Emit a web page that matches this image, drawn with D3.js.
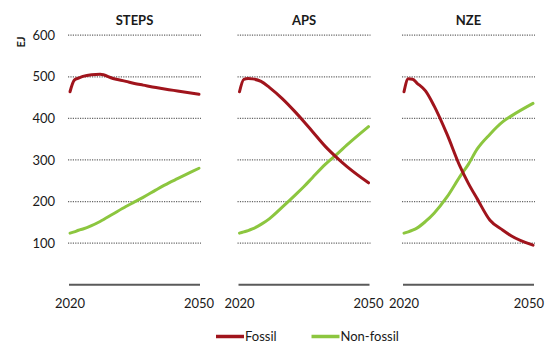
<!DOCTYPE html>
<html>
<head>
<meta charset="utf-8">
<script src="https://cdn.jsdelivr.net/npm/d3@7"></script>
<style>
  html, body { margin: 0; padding: 0; background: #fff; }
  svg { display: block; font-family: Lato, "Open Sans", sans-serif; }
</style>
</head>
<body>
<svg id="chart" width="545" height="343"></svg>
<script>
// Primary energy demand by fuel type and scenario (EJ)
const scenarios = ["STEPS", "APS", "NZE"];
const years = [2020, 2021, 2022, 2023, 2025, 2027, 2030, 2033, 2035, 2037, 2040, 2043, 2045, 2050];

const stepsFossil    = [464, 492, 497, 501, 505, 506, 496, 489, 484, 480, 474, 469, 466, 458];
const stepsNonFossil = [124, 127, 131, 134, 142, 152, 170, 188, 199, 210, 228, 245, 255, 280];
const apsFossil      = [464, 494, 496, 495, 489, 474, 447, 415, 392, 368, 332, 302, 284, 245];
const apsNonFossil   = [124, 127, 130, 134, 145, 159, 187, 216, 236, 258, 290, 317, 336, 380];
const nzeFossil      = [464, 495, 494, 485, 466, 430, 362, 285, 243, 207, 155, 131, 117, 95];
const nzeNonFossil   = [124, 127, 131, 136, 152, 172, 211, 260, 290, 326, 362, 392, 406, 436];

const yTicks = [100, 200, 300, 400, 500, 600];
const xTickLabels = [2020, 2050];
const seriesNames = ["Fossil", "Non-fossil"];

const fossilByScenario = [stepsFossil, apsFossil, nzeFossil];
const nonFossilByScenario = [stepsNonFossil, apsNonFossil, nzeNonFossil];

const colors = { "Fossil": "#a0141c", "Non-fossil": "#8cc63f" };

const W = 545;
const svg = d3.select("#chart");

const y = d3.scaleLinear().domain([0, 600]).range([284.7, 35.2]);
const panelLeft = [69, 238.5, 403];
const panelWidth = 131;

// y axis labels and unit
svg.append("g").selectAll("text")
  .data(yTicks).join("text")
  .attr("x", 55).attr("y", d => y(d))
  .attr("dy", "0.35em")
  .attr("text-anchor", "end")
  .attr("font-size", 13)
  .attr("fill", "#1a1a1a")
  .text(d => d);

svg.append("text")
  .attr("transform", `translate(24.5,42) rotate(-90)`)
  .attr("text-anchor", "middle")
  .attr("font-size", 11)
  .attr("font-weight", 700)
  .attr("fill", "#1a1a1a")
  .text("EJ");

const line = (x) => d3.line()
  .x(d => x(d[0]))
  .y(d => y(d[1]))
  .curve(d3.curveMonotoneX);

scenarios.forEach((name, i) => {
  const left = panelLeft[i];
  const x = d3.scaleLinear().domain([2020, 2050]).range([left + 1, left + panelWidth - 1]);
  const g = svg.append("g");

  // dotted gridlines
  g.append("g").selectAll("line")
    .data(yTicks).join("line")
    .attr("x1", left - 1).attr("x2", left + panelWidth + 1)
    .attr("y1", d => y(d)).attr("y2", d => y(d))
    .attr("stroke", "#666")
    .attr("stroke-width", 1.3)
    .attr("stroke-dasharray", "1.2,1.2");

  // baseline
  g.append("line")
    .attr("x1", left).attr("x2", left + panelWidth)
    .attr("y1", y(0)).attr("y2", y(0))
    .attr("stroke", "#5a5a5a")
    .attr("stroke-width", 2);

  // x tick labels (kept inside the right edge of the svg)
  g.append("g").selectAll("text")
    .data(xTickLabels).join("text")
    .each(function (d) {
      const cx = x(d);
      const t = d3.select(this);
      if (cx + 14 > W - 1) {
        t.attr("x", W - 1).attr("text-anchor", "end");
      } else {
        t.attr("x", cx).attr("text-anchor", "middle");
      }
    })
    .attr("y", 308)
    .attr("font-size", 13)
    .attr("fill", "#1a1a1a")
    .text(d => d);

  // panel title
  g.append("text")
    .attr("x", left + panelWidth / 2)
    .attr("y", 25)
    .attr("text-anchor", "middle")
    .attr("font-size", 13)
    .attr("font-weight", 700)
    .attr("fill", "#1a1a1a")
    .text(name);

  const series = [
    { key: "Non-fossil", values: nonFossilByScenario[i] },
    { key: "Fossil", values: fossilByScenario[i] }
  ];
  series.forEach(s => {
    g.append("path")
      .datum(years.map((yr, j) => [yr, s.values[j]]))
      .attr("fill", "none")
      .attr("stroke", colors[s.key])
      .attr("stroke-width", 3)
      .attr("stroke-linejoin", "round")
      .attr("stroke-linecap", "round")
      .attr("d", line(x));
  });
});

// legend
const legendX = [216, 311.5];
const legend = svg.append("g");
seriesNames.forEach((n, i) => {
  legend.append("line")
    .attr("x1", legendX[i]).attr("x2", legendX[i] + 28)
    .attr("y1", 336.5).attr("y2", 336.5)
    .attr("stroke", colors[n])
    .attr("stroke-width", 3.5);
  legend.append("text")
    .attr("x", legendX[i] + 29)
    .attr("y", 336.5)
    .attr("dy", "0.35em")
    .attr("font-size", 13)
    .attr("fill", "#1a1a1a")
    .text(n);
});
</script>
</body>
</html>
